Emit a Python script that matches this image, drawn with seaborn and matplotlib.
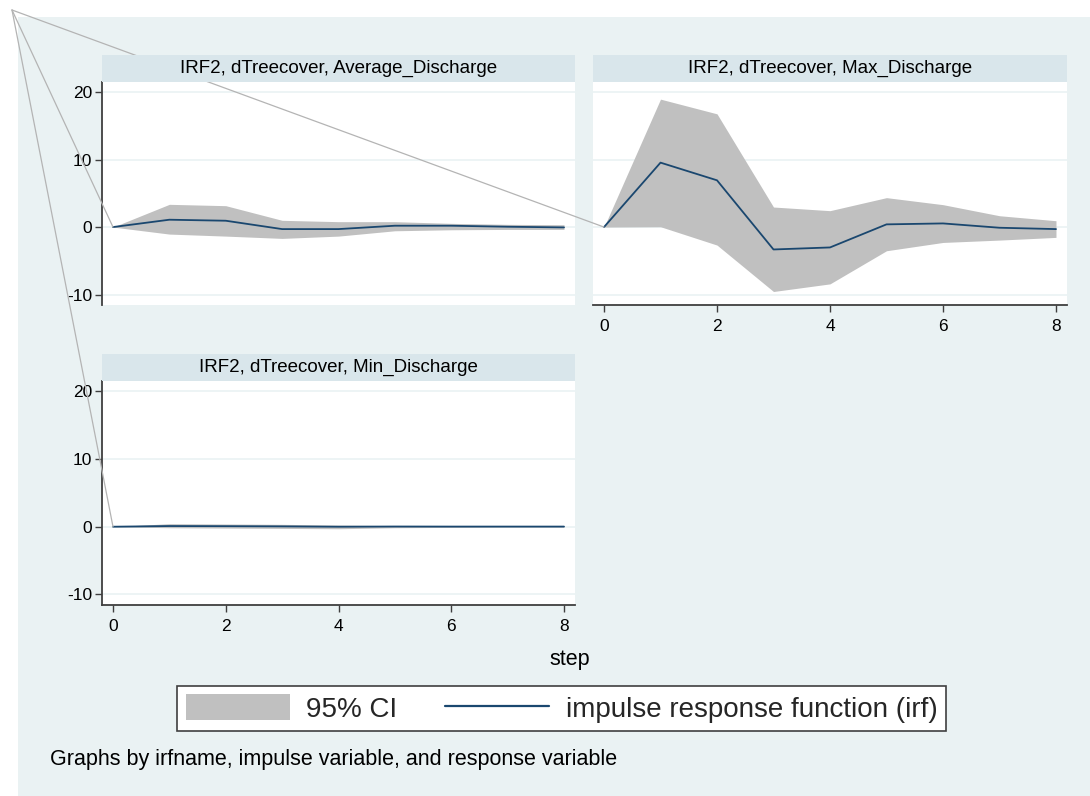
import matplotlib
matplotlib.use("Agg")
import matplotlib.pyplot as plt
from matplotlib.patches import Rectangle, Patch, ConnectionPatch
from matplotlib.lines import Line2D
import seaborn as sns
import pandas as pd

# ---- data ----
steps = [0, 1, 2, 3, 4, 5, 6, 7, 8]
panel_titles = ["IRF2, dTreecover, Average_Discharge",
                "IRF2, dTreecover, Max_Discharge",
                "IRF2, dTreecover, Min_Discharge"]
avg_irf = [0, 1.09, 0.94, -0.30, -0.30, 0.20, 0.20, 0.05, -0.05]
avg_lo = [0, -1.04, -1.34, -1.68, -1.34, -0.55, -0.40, -0.35, -0.35]
avg_hi = [0, 3.37, 3.17, 1.00, 0.80, 0.80, 0.55, 0.40, 0.35]
max_irf = [0, 9.55, 6.93, -3.32, -3.02, 0.40, 0.54, -0.10, -0.30]
max_lo = [0, 0.05, -2.67, -9.55, -8.42, -3.51, -2.28, -1.93, -1.53]
max_hi = [0, 18.96, 16.78, 2.97, 2.43, 4.36, 3.32, 1.68, 0.94]
min_irf = [0, 0.10, 0.08, 0.05, 0.00, 0.03, 0.02, 0.02, 0.02]
min_lo = [0, -0.15, -0.20, -0.25, -0.30, -0.15, -0.10, -0.05, -0.05]
min_hi = [0, 0.45, 0.40, 0.35, 0.25, 0.15, 0.10, 0.10, 0.10]
x_ticks = [0, 2, 4, 6, 8]
y_ticks = [-10, 0, 10, 20]
legend_labels = ["95% CI", "impulse response function (irf)"]
x_label = "step"
note_text = "Graphs by irfname, impulse variable, and response variable"

# ---- style ----
sns.set_theme(style="white")
plt.rcParams["font.family"] = ["Liberation Sans", "DejaVu Sans"]
plt.rcParams["axes.unicode_minus"] = False

BG = "#EAF2F3"
STRIP = "#D9E6EB"
GRID = "#EAF2F3"
CI = "#C0C0C0"
NAVY = "#1A476F"
AXC = "#3F3F3F"

W, H = 1090, 796
fig = plt.figure(figsize=(W / 100, H / 100), dpi=100, facecolor="white")

def fx(px):
    return px / W

def fy(py):
    return 1 - py / H

# outer graph region
fig.patches.append(Rectangle((fx(18), 0), 1 - fx(18), fy(17), transform=fig.transFigure,
                             facecolor=BG, edgecolor="none", zorder=-10))

# panel geometry in pixels: (left, top, right, bottom)
boxes = [(102, 82, 575, 305), (593, 82, 1067, 305), (102, 381, 575, 605)]
strip_h = 27
series = [(avg_irf, avg_lo, avg_hi), (max_irf, max_lo, max_hi), (min_irf, min_lo, min_hi)]
show_y = [True, False, True]
show_x = [False, True, True]

axes = []
for i, ((l, t, r, b), (irf, lo, hi)) in enumerate(zip(boxes, series)):
    ax = fig.add_axes([fx(l), fy(b), fx(r - l), (b - t) / H])
    ax.set_facecolor("white")
    df = pd.DataFrame({"step": steps, "irf": irf, "lo": lo, "hi": hi})
    ax.fill_between(df["step"], df["lo"], df["hi"], color=CI, linewidth=0, zorder=2)
    sns.lineplot(data=df, x="step", y="irf", ax=ax, color=NAVY, linewidth=1.3, zorder=3)
    ax.set_xlim(-0.195, 8.195)
    ax.set_ylim(-11.55, 21.5)
    ax.set_xticks(x_ticks)
    ax.set_yticks(y_ticks)
    for yv in y_ticks:
        ax.axhline(yv, color=GRID, linewidth=1.2, zorder=1)
    ax.grid(False)
    for s in ["top", "right", "left", "bottom"]:
        ax.spines[s].set_visible(False)
    ax.spines["left"].set_visible(show_y[i])
    ax.spines["bottom"].set_visible(show_x[i])
    for s in ["left", "bottom"]:
        ax.spines[s].set_color(AXC)
        ax.spines[s].set_linewidth(1.3)
    ax.tick_params(axis="y", left=show_y[i], labelleft=show_y[i], direction="out",
                   length=5, width=1.0, color=AXC, labelsize=12.5, labelcolor="black", pad=2)
    ax.tick_params(axis="x", bottom=show_x[i], labelbottom=show_x[i], direction="out",
                   length=5, width=1.0, color=AXC, labelsize=12.5, labelcolor="black", pad=5)
    ax.set_xlabel("")
    ax.set_ylabel("")
    # header strip
    fig.patches.append(Rectangle((fx(l), fy(b) + (b - t) / H), fx(r - l), strip_h / H,
                                 transform=fig.transFigure, facecolor=STRIP,
                                 edgecolor="none", zorder=2))
    fig.text(fx((l + r) / 2), fy(t - strip_h / 2), panel_titles[i], ha="center",
             va="center", fontsize=13.5, color="black", zorder=3)
    axes.append(ax)

# stray connecting lines from the graph corner to each panel's first point
for ax, (irf, lo, hi) in zip([axes[1], axes[0], axes[2]], [series[1], series[0], series[2]]):
    con = ConnectionPatch(xyA=(fx(12), fy(10)), coordsA=fig.transFigure,
                          xyB=(steps[0], irf[0]), coordsB=ax.transData,
                          color="#B4B4B4", linewidth=0.9, zorder=1)
    fig.add_artist(con)

# x axis title
fig.text(fx(570), fy(660), x_label, ha="center", va="center", fontsize=15.5, color="black")

# legend
handles = [Patch(facecolor=CI, edgecolor="none"),
           Line2D([0], [0], color=NAVY, linewidth=1.6)]
leg = fig.legend(handles, legend_labels, loc="center",
                 bbox_to_anchor=(fx((175 + 948) / 2), fy((683 + 734) / 2)),
                 ncol=2, fontsize=20, frameon=True, fancybox=False, handlelength=3.75,
                 handleheight=1.05, handletextpad=0.6, columnspacing=1.7,
                 borderpad=0.3, borderaxespad=0)
leg.get_frame().set_edgecolor("#3F3F3F")
leg.get_frame().set_linewidth(1.2)
leg.get_frame().set_facecolor("white")
leg.get_frame().set_alpha(1)

# note
fig.text(fx(50), fy(760), note_text, ha="left", va="center", fontsize=15.5, color="black")

fig.savefig("out.png", dpi=100, facecolor="white")
